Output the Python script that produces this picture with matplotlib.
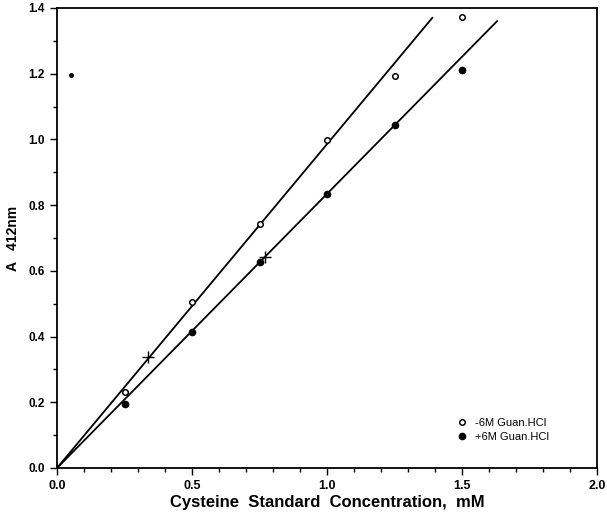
import matplotlib
matplotlib.use("Agg")
import matplotlib.pyplot as plt
from matplotlib.ticker import MultipleLocator
import numpy as np

plt.rcParams['font.family'] = ['Liberation Sans', 'DejaVu Sans']

# Data
conc = [0.25, 0.5, 0.75, 1.0, 1.25, 1.5]
abs_minus = [0.231, 0.505, 0.742, 0.997, 1.192, 1.373]
abs_plus = [0.195, 0.414, 0.627, 0.834, 1.044, 1.210]
fit_minus_x = [0.0, 1.39]
fit_minus_y = [0.0, 1.37]
fit_plus_x = [0.0, 1.63]
fit_plus_y = [0.0, 1.36]
cross_x = [0.337, 0.77]
cross_y = [0.338, 0.642]
stray_x = [0.05]
stray_y = [1.195]
xticks = [0.0, 0.5, 1.0, 1.5, 2.0]
yticks = [0.0, 0.2, 0.4, 0.6, 0.8, 1.0, 1.2, 1.4]

fig = plt.figure(figsize=(6.07, 5.15), dpi=100)
ax = fig.add_axes([0.094, 0.0913, 0.8895, 0.8932])

ax.plot(fit_minus_x, fit_minus_y, color='black', lw=1.3)
ax.plot(fit_plus_x, fit_plus_y, color='black', lw=1.3)
ax.plot(conc, abs_minus, 'o', mfc='white', mec='black', ms=4, mew=1.1,
        label='-6M Guan.HCl', zorder=3)
ax.plot(conc, abs_plus, 'o', mfc='black', mec='black', ms=4.5,
        label='+6M Guan.HCl', zorder=3)
ax.plot(cross_x, cross_y, '+', color='black', ms=9, mew=1.0)
ax.plot(stray_x, stray_y, 'o', color='black', ms=2.5)

ax.set_xticks(xticks)
ax.set_xticklabels(['%.1f' % v for v in xticks], fontsize=9, fontweight='bold')
ax.set_yticks(yticks)
ax.set_yticklabels(['%.1f' % v for v in yticks], fontsize=8.5, fontweight='bold')
ax.xaxis.set_minor_locator(MultipleLocator(0.1))
ax.yaxis.set_minor_locator(MultipleLocator(0.1))
ax.set_xlim(0, 2.0)
ax.set_ylim(0, 1.4)
ax.tick_params(which='both', direction='out', width=1.0)
ax.tick_params(axis='x', which='major', pad=4)
ax.tick_params(axis='y', which='major', pad=4)
ax.tick_params(which='major', length=5)
ax.tick_params(which='minor', length=3)
for s in ax.spines.values():
    s.set_linewidth(1.3)

ax.set_xlabel('Cysteine  Standard  Concentration,  mM', fontsize=12,
              fontweight='bold')
ax.xaxis.set_label_coords(0.5, -0.058)
ax.set_ylabel('A   412nm', fontsize=10, fontweight='bold')
ax.yaxis.set_label_coords(-0.068, 0.5)

ax.legend(loc='upper left', bbox_to_anchor=(0.722, 0.13), frameon=False,
          fontsize=8, handletextpad=0.6, labelspacing=0.35, handlelength=1.0,
          borderpad=0.4)

fig.savefig('out.png', dpi=100)
